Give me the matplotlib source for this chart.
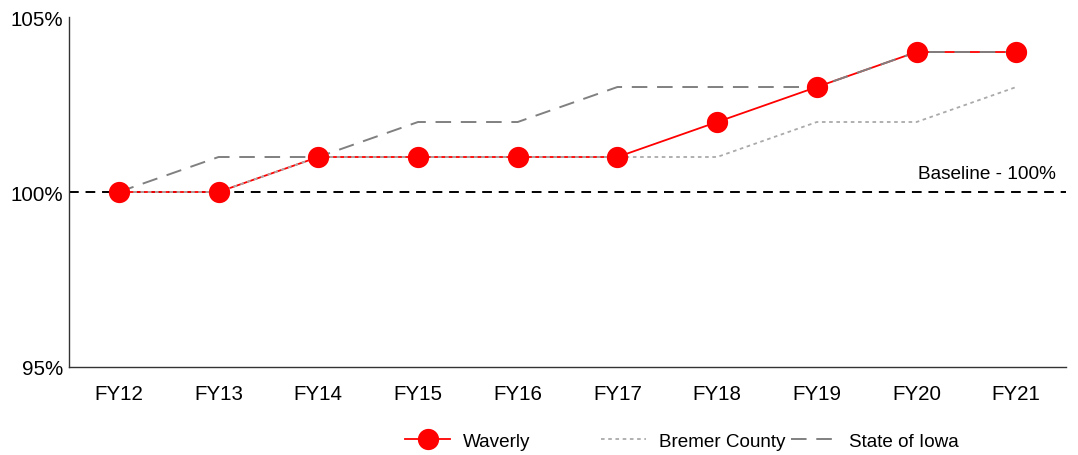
import matplotlib
matplotlib.use("Agg")
import matplotlib.pyplot as plt
from matplotlib.lines import Line2D

plt.rcParams["font.family"] = ["Liberation Sans", "DejaVu Sans"]

years = ["FY12", "FY13", "FY14", "FY15", "FY16", "FY17", "FY18", "FY19", "FY20", "FY21"]
waverly = [100, 100, 101, 101, 101, 101, 102, 103, 104, 104]
bremer = [100, 100, 101, 101, 101, 101, 101, 102, 102, 103]
iowa = [100, 101, 101, 102, 102, 103, 103, 103, 104, 104]
baseline = 100
y_ticks = [95, 100, 105]

fig = plt.figure(figsize=(10.78, 4.56), dpi=100)
ax = fig.add_axes([0.064, 0.193, 0.925, 0.7675])

x = list(range(len(years)))

ax.axhline(baseline, color="black", linestyle=(0, (5, 3.5)), linewidth=1.4, zorder=1)
ax.text(len(years) - 0.6, baseline + 0.3, "Baseline - 100%", ha="right", va="bottom",
        fontsize=13.7)

ax.plot(x, waverly, color="#ff0000", linewidth=1.3, zorder=2)
ax.plot(x, bremer, color="#aaaaaa", linestyle=(0, (2, 2)), linewidth=1.3, zorder=3)
ax.plot(x, iowa, color="#808080", linestyle=(0, (8, 5)), linewidth=1.4, zorder=3)
ax.plot(x, waverly, linestyle="none", marker="o", markersize=14.3,
        color="#ff0000", zorder=4)

ax.set_xlim(-0.5, len(years) - 0.5)
ax.set_ylim(95, 105)
ax.set_xticks(x)
ax.set_xticklabels(years)
ax.set_yticks(y_ticks)
ax.set_yticklabels([f"{v}%" for v in y_ticks])
ax.tick_params(axis="both", length=0, labelsize=14.8)
ax.tick_params(axis="x", pad=12)
ax.tick_params(axis="y", pad=4)
for side in ["top", "right"]:
    ax.spines[side].set_visible(False)
for side in ["left", "bottom"]:
    ax.spines[side].set_color("#333333")
    ax.spines[side].set_linewidth(1.0)

handles = [
    Line2D([], [], color="#ff0000", linewidth=1.3, marker="o", markersize=14.3),
    Line2D([], [], color="#aaaaaa", linestyle=(0, (2, 2)), linewidth=1.3),
    Line2D([], [], color="#808080", linestyle=(0, (8, 5)), linewidth=1.4),
]
labels = ["Waverly", "Bremer County", "State of Iowa"]
starts = [405, 601, 791]
for h, lab, xs in zip(handles, labels, starts):
    leg = fig.legend([h], [lab], loc="center left", bbox_to_anchor=(xs / 1078, 1 - 442 / 456),
                     frameon=False, fontsize=13.6, handlelength=2.4, handletextpad=0.65,
                     borderpad=0, borderaxespad=0)

fig.savefig("out.png", dpi=100)
